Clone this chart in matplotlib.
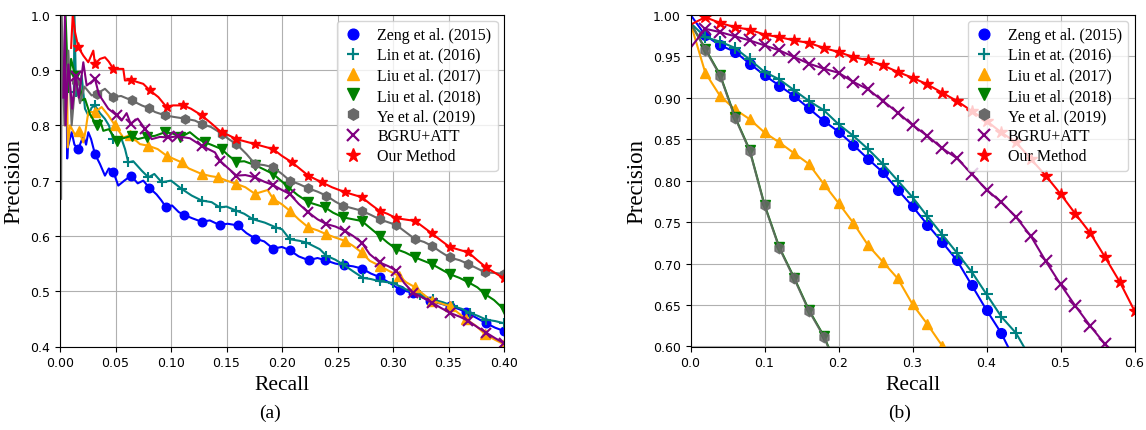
import matplotlib
matplotlib.use("Agg")
import matplotlib.pyplot as plt
from matplotlib.lines import Line2D
import numpy as np

# ---- panel (a): (recall, precision) pairs ----
zeng_a = [(0.006, 0.855), (0.0065, 0.74), (0.007, 0.76), (0.0105, 0.7875), (0.013, 0.765), (0.0165, 0.757),
          (0.021, 0.781), (0.0235, 0.765), (0.0255, 0.7875), (0.028, 0.775), (0.0315, 0.748), (0.036, 0.73),
          (0.0405, 0.709), (0.044, 0.722), (0.048, 0.716), (0.0525, 0.691), (0.058, 0.70), (0.064, 0.709),
          (0.070, 0.695), (0.075, 0.70), (0.0805, 0.687), (0.087, 0.675), (0.091, 0.665), (0.0955, 0.652),
          (0.101, 0.655), (0.107, 0.643), (0.112, 0.638), (0.119, 0.632), (0.1276, 0.6256), (0.135, 0.628),
          (0.1438, 0.6196), (0.151, 0.622), (0.160, 0.619), (0.168, 0.605), (0.176, 0.595), (0.184, 0.590),
          (0.192, 0.577), (0.200, 0.580), (0.207, 0.574), (0.215, 0.563), (0.224, 0.556), (0.232, 0.560),
          (0.239, 0.556), (0.248, 0.550), (0.256, 0.547), (0.264, 0.545), (0.272, 0.541), (0.280, 0.532),
          (0.288, 0.5255), (0.297, 0.515), (0.306, 0.503), (0.318, 0.497), (0.325, 0.491), (0.333, 0.482),
          (0.342, 0.478), (0.351, 0.473), (0.359, 0.468), (0.366, 0.462), (0.375, 0.452), (0.384, 0.442),
          (0.392, 0.434), (0.400, 0.428)]
lin_a = [(0.0125, 0.86), (0.013, 1.0), (0.0145, 0.86), (0.0165, 0.854), (0.0195, 0.890), (0.0225, 0.83),
         (0.0255, 0.818), (0.0285, 0.832), (0.0315, 0.836), (0.036, 0.822), (0.0405, 0.8116), (0.044, 0.80),
         (0.048, 0.775), (0.051, 0.772), (0.055, 0.778), (0.0586, 0.757), (0.0615, 0.733), (0.066, 0.735),
         (0.0736, 0.718), (0.0796, 0.706), (0.085, 0.712), (0.0916, 0.697), (0.100, 0.700), (0.1096, 0.685),
         (0.1186, 0.673), (0.1276, 0.664), (0.1366, 0.661), (0.144, 0.6515), (0.150, 0.653), (0.159, 0.6455),
         (0.166, 0.640), (0.174, 0.630), (0.1845, 0.624), (0.195, 0.615), (0.200, 0.612), (0.207, 0.594),
         (0.216, 0.591), (0.222, 0.588), (0.228, 0.582), (0.234, 0.576), (0.240, 0.564), (0.248, 0.557),
         (0.255, 0.5485), (0.264, 0.536), (0.273, 0.524), (0.280, 0.522), (0.288, 0.518), (0.300, 0.515),
         (0.312, 0.503), (0.324, 0.494), (0.336, 0.485), (0.345, 0.480), (0.354, 0.473), (0.362, 0.468),
         (0.369, 0.461), (0.377, 0.455), (0.384, 0.4485), (0.392, 0.446), (0.400, 0.442)]
liu17_a = [(0.0045, 0.80), (0.005, 0.857), (0.0065, 0.857), (0.007, 0.76), (0.009, 0.80), (0.0135, 0.783),
           (0.017, 0.79), (0.021, 0.769), (0.023, 0.79), (0.0255, 0.824), (0.0315, 0.824), (0.0375, 0.833),
           (0.0435, 0.818), (0.0495, 0.800), (0.057, 0.778), (0.063, 0.782), (0.072, 0.766), (0.0796, 0.763),
           (0.088, 0.757), (0.096, 0.745), (0.1096, 0.733), (0.116, 0.722), (0.1276, 0.712), (0.136, 0.708),
           (0.1426, 0.706), (0.150, 0.700), (0.159, 0.694), (0.167, 0.688), (0.1757, 0.676), (0.187, 0.683),
           (0.192, 0.667), (0.200, 0.657), (0.207, 0.6455), (0.215, 0.630), (0.2237, 0.6154), (0.232, 0.610),
           (0.240, 0.603), (0.248, 0.597), (0.2568, 0.591), (0.264, 0.582), (0.2718, 0.570), (0.279, 0.555),
           (0.288, 0.546), (0.296, 0.537), (0.305, 0.528), (0.312, 0.516), (0.320, 0.507), (0.327, 0.495),
           (0.335, 0.4824), (0.343, 0.478), (0.351, 0.473), (0.358, 0.462), (0.366, 0.449), (0.375, 0.437),
           (0.383, 0.422), (0.392, 0.412), (0.400, 0.404)]
liu18_a = [(0.0045, 0.86), (0.005, 1.0), (0.0075, 0.86), (0.010, 0.92), (0.0135, 0.89), (0.018, 0.881),
           (0.0195, 0.845), (0.0225, 0.848), (0.027, 0.82), (0.033, 0.80), (0.036, 0.81), (0.039, 0.790),
           (0.044, 0.793), (0.051, 0.772), (0.056, 0.776), (0.0646, 0.781), (0.070, 0.775), (0.078, 0.779),
           (0.0856, 0.781), (0.0946, 0.7875), (0.102, 0.785), (0.108, 0.778), (0.117, 0.7875), (0.124, 0.776),
           (0.1306, 0.769), (0.136, 0.765), (0.1456, 0.757), (0.152, 0.745), (0.159, 0.734), (0.166, 0.735),
           (0.1757, 0.728), (0.184, 0.720), (0.192, 0.712), (0.199, 0.700), (0.2057, 0.688), (0.214, 0.674),
           (0.2237, 0.661), (0.2387, 0.6516), (0.246, 0.642), (0.255, 0.6335), (0.2718, 0.627), (0.279, 0.615),
           (0.288, 0.600), (0.295, 0.588), (0.303, 0.576), (0.311, 0.570), (0.320, 0.561), (0.335, 0.549),
           (0.343, 0.540), (0.351, 0.531), (0.360, 0.524), (0.368, 0.516), (0.376, 0.507), (0.383, 0.4946),
           (0.391, 0.484), (0.400, 0.467)]
ye_a = [(0.001, 0.667), (0.0015, 1.0), (0.004, 0.80), (0.0075, 0.935), (0.0105, 0.80), (0.014, 0.88),
        (0.018, 0.84), (0.022, 0.87), (0.0285, 0.854), (0.033, 0.857), (0.0405, 0.866), (0.048, 0.851),
        (0.055, 0.853), (0.0646, 0.845), (0.0736, 0.836), (0.080, 0.831), (0.0856, 0.824), (0.0946, 0.818),
        (0.103, 0.815), (0.1126, 0.812), (0.1216, 0.8085), (0.1276, 0.8025), (0.136, 0.797), (0.1456, 0.785),
        (0.152, 0.775), (0.159, 0.766), (0.168, 0.748), (0.1757, 0.730), (0.184, 0.728), (0.192, 0.724),
        (0.200, 0.712), (0.207, 0.700), (0.215, 0.694), (0.2237, 0.686), (0.232, 0.680), (0.240, 0.6727),
        (0.248, 0.662), (0.255, 0.6545), (0.2718, 0.6455), (0.280, 0.638), (0.288, 0.630), (0.303, 0.6196),
        (0.312, 0.606), (0.320, 0.594), (0.328, 0.589), (0.335, 0.582), (0.343, 0.571), (0.351, 0.561),
        (0.360, 0.556), (0.368, 0.549), (0.376, 0.541), (0.383, 0.534), (0.392, 0.533), (0.400, 0.531)]
bgru_a = [(0.003, 0.85), (0.0045, 1.0), (0.005, 0.80), (0.0075, 0.91), (0.011, 0.83), (0.014, 0.89),
          (0.017, 0.85), (0.021, 0.914), (0.024, 0.872), (0.028, 0.878), (0.0315, 0.884), (0.035, 0.856),
          (0.0435, 0.830), (0.051, 0.818), (0.0555, 0.8085), (0.060, 0.822), (0.0636, 0.803), (0.070, 0.812),
          (0.0766, 0.7935), (0.0826, 0.775), (0.090, 0.779), (0.0976, 0.778), (0.106, 0.780), (0.117, 0.7766),
          (0.1276, 0.763), (0.1396, 0.751), (0.144, 0.736), (0.150, 0.725), (0.159, 0.709), (0.167, 0.710),
          (0.1757, 0.706), (0.184, 0.698), (0.192, 0.692), (0.200, 0.683), (0.207, 0.6757), (0.215, 0.658),
          (0.2237, 0.6426), (0.232, 0.630), (0.240, 0.6214), (0.248, 0.617), (0.2568, 0.609), (0.264, 0.600),
          (0.2718, 0.588), (0.279, 0.567), (0.288, 0.552), (0.296, 0.545), (0.303, 0.537), (0.310, 0.515),
          (0.318, 0.4976), (0.327, 0.488), (0.335, 0.4795), (0.343, 0.470), (0.351, 0.461), (0.360, 0.454),
          (0.368, 0.446), (0.376, 0.435), (0.384, 0.425), (0.392, 0.415), (0.400, 0.406)]
ours_a = [(0.010, 0.94), (0.0115, 1.0), (0.0135, 0.969), (0.0165, 0.941), (0.021, 0.926), (0.0255, 0.914),
          (0.030, 0.935), (0.0315, 0.911), (0.036, 0.92), (0.0405, 0.923), (0.044, 0.915), (0.048, 0.902),
          (0.057, 0.902), (0.0585, 0.881), (0.064, 0.882), (0.070, 0.878), (0.075, 0.875), (0.081, 0.863),
          (0.0886, 0.851), (0.096, 0.833), (0.102, 0.836), (0.111, 0.836), (0.118, 0.830), (0.1276, 0.818),
          (0.1366, 0.803), (0.1456, 0.787), (0.152, 0.782), (0.159, 0.775), (0.1757, 0.766), (0.192, 0.757),
          (0.1997, 0.745), (0.209, 0.733), (0.2237, 0.709), (0.2357, 0.697), (0.245, 0.688), (0.2568, 0.679),
          (0.2718, 0.670), (0.280, 0.657), (0.288, 0.645), (0.295, 0.640), (0.303, 0.632), (0.320, 0.627),
          (0.328, 0.615), (0.335, 0.6045), (0.343, 0.592), (0.351, 0.580), (0.368, 0.570), (0.376, 0.556),
          (0.384, 0.543), (0.392, 0.533), (0.400, 0.523)]

# ---- panel (b): precision sampled every 0.02 recall (first point at recall 0) ----
zeng_b = [1.0, 0.975, 0.963, 0.9555, 0.941, 0.927, 0.9145, 0.902, 0.887, 0.872, 0.859, 0.843, 0.826,
          0.810, 0.789, 0.769, 0.747, 0.726, 0.704, 0.674, 0.644, 0.616, 0.580]
lin_b = [0.99, 0.973, 0.9675, 0.960, 0.946, 0.931, 0.922, 0.909, 0.896, 0.885, 0.868, 0.854, 0.838,
         0.820, 0.800, 0.780, 0.757, 0.735, 0.713, 0.690, 0.663, 0.636, 0.616, 0.585]
liu17_b = [0.99, 0.930, 0.902, 0.886, 0.874, 0.858, 0.846, 0.833, 0.820, 0.796, 0.773, 0.749, 0.722,
           0.702, 0.682, 0.651, 0.627, 0.601, 0.575]
liu18_b = [0.99, 0.959, 0.9275, 0.877, 0.837, 0.771, 0.7196, 0.683, 0.644, 0.613, 0.571]
ye_b = [0.99, 0.958, 0.9265, 0.876, 0.836, 0.770, 0.7186, 0.682, 0.643, 0.612, 0.570]
bgru_b = [0.96, 0.983, 0.979, 0.974, 0.969, 0.963, 0.957, 0.949, 0.941, 0.935, 0.930, 0.919, 0.910,
          0.896, 0.882, 0.867, 0.854, 0.839, 0.827, 0.808, 0.789, 0.774, 0.756, 0.733, 0.703, 0.675,
          0.649, 0.625, 0.603, 0.585]
ours_b = [0.988, 0.997, 0.990, 0.985, 0.982, 0.976, 0.973, 0.969, 0.966, 0.960, 0.955, 0.949, 0.945,
          0.939, 0.931, 0.924, 0.916, 0.906, 0.896, 0.884, 0.872, 0.858, 0.846, 0.826, 0.806, 0.784,
          0.760, 0.737, 0.708, 0.678, 0.643]

labels = ["Zeng et al. (2015)", "Lin et at. (2016)", "Liu et al. (2017)", "Liu et al. (2018)",
          "Ye et al. (2019)", "BGRU+ATT", "Our Method"]
colors = ["blue", "teal", "orange", "green", "dimgray", "purple", "red"]
markers = ["o", "+", "^", "v", "h", "x", "*"]
msizes = [7, 8, 7.5, 7.5, 7.5, 8, 9]

SERIF = "Liberation Serif"

# recall positions where panel (a) markers sit
mark_recall_a = np.arange(0.0155, 0.401, 0.016)


def marker_indices(xs, targets):
    xs = np.asarray(xs)
    idx = sorted({int(np.argmin(np.abs(xs - t))) for t in targets})
    return idx


fig = plt.figure(figsize=(11.46, 4.31), dpi=100)
ax_a = fig.add_axes([60 / 1146, 1 - 347.5 / 431, 444 / 1146, 331.8 / 431])
ax_b = fig.add_axes([690.5 / 1146, 1 - 347.5 / 431, 444 / 1146, 331.8 / 431])

# panel (a): noisy curves
for pts, c, m, ms in zip([zeng_a, lin_a, liu17_a, liu18_a, ye_a, bgru_a, ours_a], colors, markers, msizes):
    xs, ys = zip(*pts)
    mew = 1.5 if m in "+x" else 1.0
    ax_a.plot(xs, ys, color=c, lw=1.5, marker=m, ms=ms * 0.88, mew=mew,
              markevery=marker_indices(xs, mark_recall_a))

# panel (b): smooth curves, one marker per 0.02 recall step
for prec, c, m, ms in zip([zeng_b, lin_b, liu17_b, liu18_b, ye_b, bgru_b, ours_b], colors, markers, msizes):
    rec = np.arange(len(prec)) * 0.02
    mew = 1.5 if m in "+x" else 1.0
    alpha = 0.85 if c == "dimgray" else 1.0
    ax_b.plot(rec, prec, color=c, lw=1.5, marker=m, ms=ms, mew=mew, markevery=(1, 1), alpha=alpha)

ax_a.set_xlim(0, 0.40)
ax_a.set_ylim(0.4, 1.0)
ax_a.set_xticks(np.arange(0, 0.401, 0.05))
ax_a.set_xticklabels([f"{v:.2f}" for v in np.arange(0, 0.401, 0.05)])
ax_a.set_yticks(np.arange(0.4, 1.001, 0.1))
ax_a.set_yticklabels([f"{v:.1f}" for v in np.arange(0.4, 1.001, 0.1)])

ax_b.set_xlim(0, 0.6)
ax_b.set_ylim(0.6, 1.0)
ax_b.set_xticks(np.arange(0, 0.601, 0.1))
ax_b.set_xticklabels([f"{v:.1f}" for v in np.arange(0, 0.601, 0.1)])
ax_b.set_yticks(np.arange(0.6, 1.001, 0.05))
ax_b.set_yticklabels([f"{v:.2f}" for v in np.arange(0.6, 1.001, 0.05)])

handles = [Line2D([], [], linestyle="none", color=c, marker=m, ms=ms * 1.1,
                  mew=1.6 if m in "+x" else 1.0)
           for c, m, ms in zip(colors, markers, msizes)]

for ax in (ax_a, ax_b):
    ax.grid(True, color="#b0b0b0", lw=0.8)
    ax.set_axisbelow(True)
    ax.tick_params(labelsize=9)
    ax.set_xlabel("Recall", family=SERIF, fontsize=15.5)
    ax.set_ylabel("Precision", family=SERIF, fontsize=16.5)
    ax.legend(handles, labels, loc="upper right", prop={"family": SERIF, "size": 11.5},
              handlelength=1.2, handletextpad=0.9, labelspacing=0.26, borderaxespad=0.4)

fig.text(270 / 1146, 1 - 413 / 431, "(a)", family=SERIF, fontsize=14, ha="center", va="center")
fig.text(900 / 1146, 1 - 413 / 431, "(b)", family=SERIF, fontsize=14, ha="center", va="center")

fig.savefig("out.png", dpi=100)
